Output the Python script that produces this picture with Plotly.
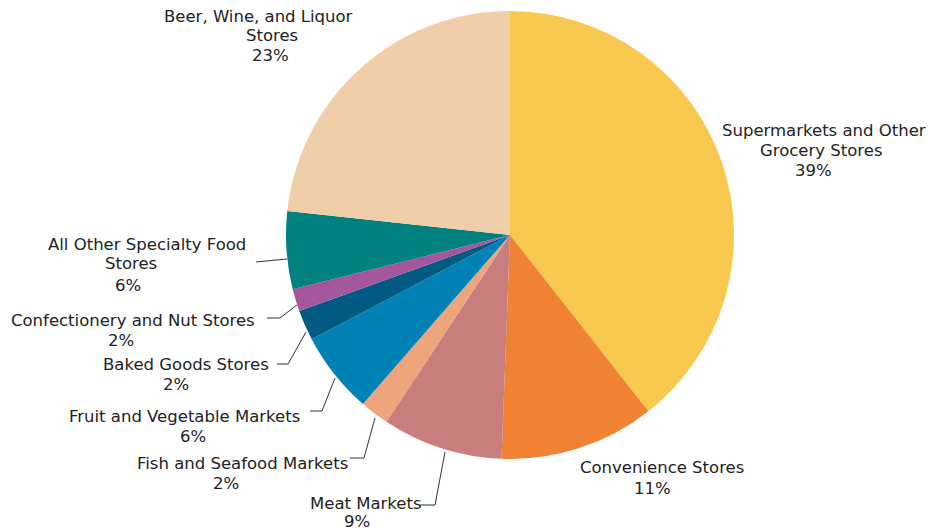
import plotly.graph_objects as go

categories = [
    "Supermarkets and Other<br>Grocery Stores",
    "Convenience Stores",
    "Meat Markets",
    "Fish and Seafood Markets",
    "Fruit and Vegetable Markets",
    "Baked Goods Stores",
    "Confectionery and Nut Stores",
    "All Other Specialty Food<br>Stores",
    "Beer, Wine, and Liquor<br>Stores",
]
shares = [39.4, 11.2, 8.7, 2.1, 5.9, 2.2, 1.6, 5.6, 23.3]
colors = ["#F9C94F", "#EF8233", "#C97D7C", "#EEA47D", "#0082B4",
          "#005A82", "#A5579E", "#00807F", "#F0CEAA"]

W, H = 936, 531
OFF = 8  # page body margin offset


def px2paper(x, y):
    return (x - OFF) / W, 1 - (y - OFF) / H


x0, y1 = px2paper(286, 11)
x1, y0 = px2paper(734, 459)

fig = go.Figure(go.Pie(
    labels=[c.replace("<br>", " ") for c in categories],
    values=shares,
    sort=False,
    direction="clockwise",
    rotation=0,
    marker=dict(colors=colors, line=dict(width=0)),
    textinfo="none",
    hoverinfo="label+percent",
    domain=dict(x=[x0, x1], y=[y0, y1]),
    showlegend=False,
))

# per-line label centres (screen pixels) for each category
label_lines_pos = [
    [(824, 131), (821, 151), (813, 170)],
    [(662, 467), (652, 488)],
    [(366, 503), (357, 521)],
    [(242, 463), (226, 483)],
    [(184, 416), (193, 436)],
    [(186, 364), (176, 384)],
    [(133, 320), (121, 340)],
    [(147, 244), (131, 264), (128, 285)],
    [(258, 16), (272, 36), (270, 55)],
]

annotations = []
for cat, v, positions in zip(categories, shares, label_lines_pos):
    lines = cat.split("<br>") + [f"{round(v)}%"]
    for line, (px, py) in zip(lines, positions):
        ax, ay = px2paper(px, py)
        annotations.append(dict(
            x=ax, y=ay, xref="paper", yref="paper",
            text=line, showarrow=False,
            xanchor="center", yanchor="middle", align="center",
            font=dict(family="DejaVu Sans", size=16.5, color="#222222"),
        ))

# leader lines (screen pixel polylines)
leaders = [
    [(256, 262), (287, 259)],
    [(267, 318), (280, 318), (297, 305)],
    [(277, 364), (288, 364), (306, 332)],
    [(310, 411), (322, 411), (335, 378)],
    [(350, 458), (364, 458), (375, 418)],
    [(420, 505), (435, 505), (445, 452)],
]
shapes = []
for pts in leaders:
    coords = [px2paper(x, y) for x, y in pts]
    path = "M " + " L ".join(f"{a:.5f},{b:.5f}" for a, b in coords)
    shapes.append(dict(type="path", path=path, xref="paper", yref="paper",
                       line=dict(color="#333333", width=1)))

fig.update_layout(
    width=W, height=H,
    margin=dict(l=0, r=0, t=0, b=0),
    paper_bgcolor="white", plot_bgcolor="white",
    annotations=annotations, shapes=shapes,
)

fig.write_html("out.html")
